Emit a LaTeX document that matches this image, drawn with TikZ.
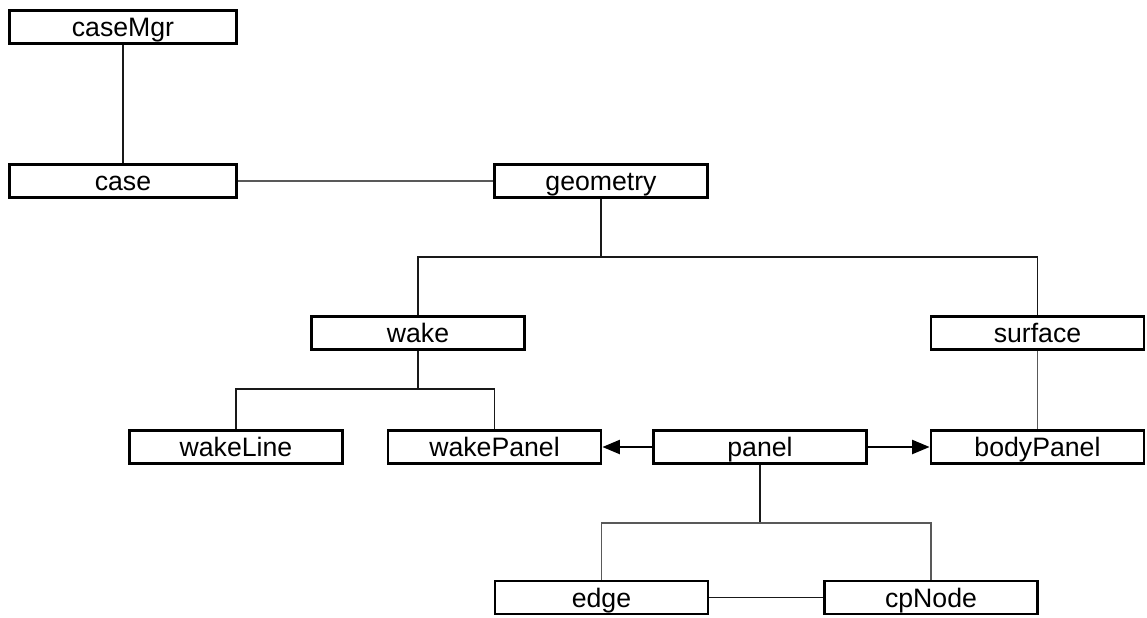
\documentclass[tikz,border=0pt]{standalone}
\usepackage{fontspec}
\setmainfont{Liberation Sans}
\usetikzlibrary{arrows.meta,shadows}
\begin{document}
\begin{tikzpicture}[x=0.75pt,y=-0.75pt,
  cls/.style={draw=black, line width=1.9pt, fill=white, minimum width=160pt, minimum height=25pt,
    inner sep=0pt, text height=17pt, text depth=2.4pt, font=\fontsize{20}{24}\selectfont,
    drop shadow={shadow xshift=0.8pt, shadow yshift=-0.8pt, fill=black!55, opacity=1}},
  wide/.style={minimum width=170.6pt},
  med/.style={draw=black!90, line width=1.2pt},
  thin/.style={draw=black!65, line width=0.8pt},
  arr/.style={draw=black, line width=1.4pt, -{Triangle[length=13pt,width=10.5pt]}}]
\useasboundingbox (0,0) rectangle (1147,618);
% nodes
\node[cls,wide] (caseMgr) at (123,27) {caseMgr};
\node[cls,wide] (case) at (123,181) {case};
\node[cls] (geometry) at (601,181) {geometry};
\node[cls] (wake) at (418,333) {wake};
\node[cls] (surface) at (1037.5,333) {surface};
\node[cls] (wakeLine) at (236,447) {wakeLine};
\node[cls] (wakePanel) at (494.5,447) {wakePanel};
\node[cls] (panel) at (760,447) {panel};
\node[cls] (bodyPanel) at (1037.5,447) {bodyPanel};
\node[cls] (edge) at (601.5,597.5) {edge};
\node[cls] (cpNode) at (931,597.5) {cpNode};
% junctions
\coordinate (jg) at (601,257);
\coordinate (jw) at (418,389);
\coordinate (jp) at (760,523);
% connectors
\draw[med] (caseMgr) -- (case);
\draw[thin] (case) -- (geometry);
\draw[med] (geometry.south) -- (jg);
\draw[med] (wake.north) |- (jg) -| (surface.north);
\draw[med] (wake.south) -- (jw);
\draw[med] (wakeLine.north) |- (jw) -| (wakePanel.north);
\draw[thin] (surface) -- (bodyPanel);
\draw[arr] (panel) -- (wakePanel);
\draw[arr] (panel) -- (bodyPanel);
\draw[med] (panel.south) -- (jp);
\draw[thin] (edge.north) |- (jp) -| (cpNode.north);
\draw[med] (edge) -- (cpNode);
\end{tikzpicture}
\end{document}
